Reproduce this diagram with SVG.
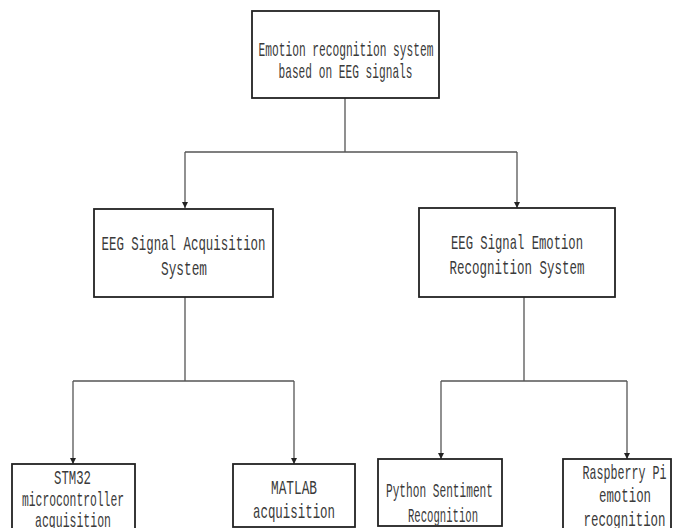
<svg xmlns="http://www.w3.org/2000/svg" width="680" height="528" viewBox="0 0 680 528">
<style>
.box{fill:#fff;stroke:#222;stroke-width:1.8}
.t{font-family:"Liberation Mono","DejaVu Sans Mono",monospace;font-size:21px;fill:#3a3a3a;text-anchor:middle}
.c{fill:none;stroke:#555;stroke-width:1.3}
</style>
<defs>
<marker id="ah" viewBox="0 0 10 10" refX="10" refY="5" markerWidth="6" markerHeight="6" markerUnits="userSpaceOnUse" orient="auto">
<path d="M0,0 L10,5 L0,10 z" fill="#222"/>
</marker>
</defs>
<g id="connectors">
<path class="c" d="M345,98 V152 M185,152 H517"/>
<path class="c" d="M185,152 V208" marker-end="url(#ah)"/>
<path class="c" d="M517,152 V208" marker-end="url(#ah)"/>
<path class="c" d="M185,297 V381 M73,381 H294"/>
<path class="c" d="M73,381 V464" marker-end="url(#ah)"/>
<path class="c" d="M294,381 V464" marker-end="url(#ah)"/>
<path class="c" d="M524,297 V381 M441,381 H627"/>
<path class="c" d="M441,381 V459" marker-end="url(#ah)"/>
<path class="c" d="M627,381 V459" marker-end="url(#ah)"/>
</g>
<g id="root">
<rect class="box" x="252" y="11" width="187" height="87"/>
<text class="t" x="346" y="56" textLength="175" lengthAdjust="spacingAndGlyphs">Emotion recognition system</text>
<text class="t" x="345.5" y="78" textLength="134" lengthAdjust="spacingAndGlyphs">based on EEG signals</text>
</g>
<g id="acq">
<rect class="box" x="94" y="209" width="179" height="88"/>
<text class="t" x="183.5" y="250" textLength="164" lengthAdjust="spacingAndGlyphs">EEG Signal Acquisition</text>
<text class="t" x="184" y="275" textLength="46" lengthAdjust="spacingAndGlyphs">System</text>
</g>
<g id="emo">
<rect class="box" x="419" y="208" width="196" height="89"/>
<text class="t" x="517" y="249" textLength="132" lengthAdjust="spacingAndGlyphs">EEG Signal Emotion</text>
<text class="t" x="517" y="274" textLength="135" lengthAdjust="spacingAndGlyphs">Recognition System</text>
</g>
<g id="stm32">
<rect class="box" x="12" y="464" width="123" height="70"/>
<text class="t" x="72.5" y="484" textLength="37" lengthAdjust="spacingAndGlyphs">STM32</text>
<text class="t" x="73" y="506" textLength="102" lengthAdjust="spacingAndGlyphs">microcontroller</text>
<text class="t" x="73" y="527" textLength="76" lengthAdjust="spacingAndGlyphs">acquisition</text>
</g>
<g id="matlab">
<rect class="box" x="233" y="464" width="122" height="63"/>
<text class="t" x="294" y="494" textLength="46" lengthAdjust="spacingAndGlyphs">MATLAB</text>
<text class="t" x="294" y="518" textLength="82" lengthAdjust="spacingAndGlyphs">acquisition</text>
</g>
<g id="python">
<rect class="box" x="378" y="459" width="124" height="67"/>
<text class="t" x="439.5" y="497" textLength="107" lengthAdjust="spacingAndGlyphs">Python Sentiment</text>
<text class="t" x="443" y="522" textLength="70" lengthAdjust="spacingAndGlyphs">Recognition</text>
</g>
<g id="raspi">
<rect class="box" x="563" y="459" width="108" height="75"/>
<text class="t" x="624.5" y="479" textLength="84" lengthAdjust="spacingAndGlyphs">Raspberry Pi</text>
<text class="t" x="625" y="502" textLength="52" lengthAdjust="spacingAndGlyphs">emotion</text>
<text class="t" x="624.5" y="526" textLength="82" lengthAdjust="spacingAndGlyphs">recognition</text>
</g>
</svg>
